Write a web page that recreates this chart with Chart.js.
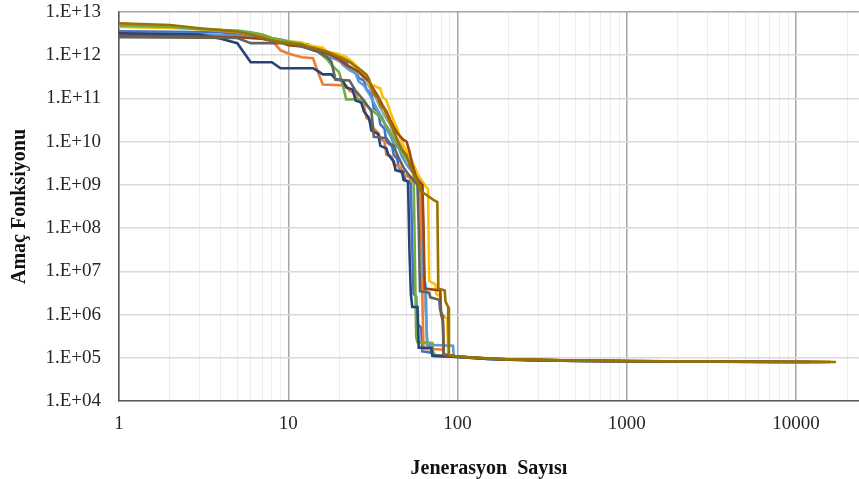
<!DOCTYPE html>
<html>
<head>
<meta charset="utf-8">
<script src="https://cdn.jsdelivr.net/npm/chart.js@4.4.0/dist/chart.umd.min.js"></script>
<style>
  html, body { margin: 0; padding: 0; background: #fff; }
  #wrap { width: 859px; height: 479px; }
</style>
</head>
<body>
<div id="wrap"><canvas id="grafik"></canvas></div>
<script>
// axis labels
var xTickLabels = [1, 10, 100, 1000, 10000];
var yTickValues = [1e4, 1e5, 1e6, 1e7, 1e8, 1e9, 1e10, 1e11, 1e12, 1e13];
var yTickLabels = ['1.E+04', '1.E+05', '1.E+06', '1.E+07', '1.E+08', '1.E+09', '1.E+10', '1.E+11', '1.E+12', '1.E+13'];

// runs: [generation, objective value]
var run1 = [[1,3.6e12],[4,3.4e12],[5,3.0e12],[6,2.6e12],[9,2.2e12],[10,1.9e12],[13,1.8e12],[14,1.5e12],[16,1.4e12],[17,1.05e12],[19,9.5e11],[20,8e11],[22,7e11],[23,5e11],[25,4.5e11],[26,3e11],[28,2.6e11],[29,1.6e11],[31,1.3e11],[32,6e10],[34,5e10],[35,2.5e10],[37,2e10],[38,1e10],[41,8e9],[42,5e9],[44,4e9],[45,2.5e9],[48,2e9],[49,1.3e9],[53,1.1e9],[54,4e7],[55,3e6],[57,2.6e6],[58,6e5],[61,5e5],[62,1.4e5],[72,1.3e5],[73,1.1e5],[100,1.04e5],[150,9.4e4],[200,9.0e4],[300,8.7e4],[600,8.5e4],[1000,8.3e4],[3000,8.1e4],[8000,8.0e4]];
var run2 = [[1,5.3e12],[2,4.8e12],[3,4e12],[5,3.4e12],[6,3e12],[7,2.6e12],[8,2.2e12],[9,1.3e12],[10,1.1e12],[12,9e11],[14,8.5e11],[15,4e11],[16,2.1e11],[22,2e11],[23,1.5e11],[25,1.3e11],[26,9e10],[28,7e10],[29,3.5e10],[31,3e10],[32,2e10],[34,1.6e10],[35,1.2e10],[37,1e10],[38,5e9],[41,4.5e9],[42,3e9],[46,2.6e9],[47,1.8e9],[52,1.5e9],[53,1.2e9],[60,1.1e9],[61,8e7],[62,2e6],[63,1.6e5],[82,1.55e5],[83,1.12e5],[100,1.06e5],[150,9.6e4],[200,9.2e4],[400,8.7e4],[1000,8.4e4],[3000,8.1e4],[12000,8.0e4]];
var run3 = [[1,3e12],[3,2.9e12],[5,2.7e12],[7,2.4e12],[9,2e12],[11,1.8e12],[13,1.7e12],[15,1.5e12],[17,1.1e12],[19,8e11],[21,6.5e11],[23,5.5e11],[25,4e11],[27,3.5e11],[29,2.5e11],[31,1.5e11],[33,1e11],[35,6e10],[37,4e10],[40,2.5e10],[42,1.5e10],[45,1e10],[48,6e9],[51,4e9],[54,2.5e9],[57,1.8e9],[60,1.3e9],[62,9e8],[63,2e7],[64,2e6],[65,1e6],[66,3e5],[68,1.6e5],[72,1.3e5],[76,1.1e5],[100,1.05e5],[200,9.1e4],[500,8.5e4],[1000,8.3e4],[5000,8.1e4],[15000,8.0e4]];
var run4 = [[1,4.5e12],[2,4.3e12],[4,3.8e12],[6,3.3e12],[7,3.0e12],[8,2.5e12],[10,2.1e12],[12,2e12],[13,1.7e12],[16,1.5e12],[17,1.2e12],[20,1.05e12],[22,9e11],[24,7e11],[26,5e11],[27,3.8e11],[29,3.5e11],[30,2.2e11],[35,1.7e11],[36,1.1e11],[38,9e10],[40,5e10],[42,3e10],[44,2e10],[46,1.2e10],[48,8e9],[50,6e9],[53,4e9],[55,3e9],[58,1.8e9],[62,1.2e9],[65,9e8],[67,8e8],[68,6e6],[74,5e6],[75,3e6],[79,2.6e6],[80,1e6],[87,8e5],[88,1.15e5],[100,1.06e5],[200,9.2e4],[500,8.6e4],[1100,8.3e4],[4000,8.1e4],[16000,8.0e4]];
var run5 = [[1,3.2e12],[3,3.1e12],[5,2.8e12],[7,2.5e12],[8,2.1e12],[10,1.9e12],[12,1.7e12],[14,1.3e12],[16,1.2e12],[17,9e11],[20,8e11],[21,6e11],[23,4.5e11],[25,3.8e11],[26,2.5e11],[28,2e11],[30,1.3e11],[32,8e10],[34,5e10],[36,3.5e10],[38,2e10],[40,1.4e10],[42,9e9],[45,7e9],[47,4.5e9],[50,3e9],[53,2.2e9],[56,1.7e9],[59,1.3e9],[62,1e9],[63,8e6],[65,4.5e6],[66,2e5],[94,1.9e5],[95,1.1e5],[150,9.6e4],[200,9.2e4],[500,8.6e4],[1000,8.3e4],[4000,8.1e4],[11000,8.0e4]];
var run6 = [[1,4.8e12],[2,4.5e12],[3,4e12],[5,3.7e12],[6,3.4e12],[7,3e12],[8,2.5e12],[9,2.3e12],[10,2.1e12],[12,1.8e12],[13,1.5e12],[15,1.2e12],[17,8e11],[18,6e11],[20,4e11],[21,2e11],[22,9.5e10],[27,9.5e10],[29,7e10],[31,5.5e10],[33,4.5e10],[36,3.2e10],[39,2e10],[41,1.4e10],[43,1e10],[46,7e9],[48,5e9],[50,4e9],[53,3e9],[55,2.5e9],[56,2e7],[57,3e5],[58,2.3e5],[71,2.2e5],[72,1.15e5],[100,1.06e5],[150,9.5e4],[200,9.1e4],[500,8.6e4],[1000,8.4e4],[2200,8.2e4]];
var run7 = [[1,3.2e12],[3,3.0e12],[4,2.4e12],[5,1.9e12],[6,6.9e11],[8,6.9e11],[9,5e11],[14,5e11],[15,4.3e11],[16,3.6e11],[18,3.6e11],[19,2.8e11],[21,2.6e11],[22,1.8e11],[24,1.6e11],[25,9e10],[27,8e10],[28,5e10],[30,3.5e10],[31,1.8e10],[34,1.5e10],[35,8e9],[38,7e9],[39,5e9],[42,3.5e9],[43,2.2e9],[47,2.0e9],[48,1.3e9],[51,1.2e9],[52,3e7],[53,3e6],[54,1.5e6],[58,1.5e6],[59,1.7e5],[70,1.7e5],[71,1.12e5],[100,1.05e5],[150,9.4e4],[200,9.0e4],[400,8.6e4],[1000,8.3e4],[4000,8.1e4],[12000,8.0e4]];
var run8 = [[1,2.8e12],[3,2.7e12],[5,2.6e12],[7,2.4e12],[9,2e12],[10,1.7e12],[12,1.6e12],[14,1.4e12],[16,1.2e12],[18,1.0e12],[20,8e11],[22,6e11],[24,5e11],[26,4.2e11],[28,3.2e11],[30,2.5e11],[32,1.6e11],[34,1.1e11],[36,7e10],[38,5e10],[40,3.2e10],[42,2.2e10],[44,1.6e10],[46,1.3e10],[48,1.1e10],[50,1e10],[52,6e9],[54,3e9],[57,1.5e9],[59,1.2e9],[62,1e9],[63,1e8],[64,4e6],[79,3.6e6],[80,1e6],[82,7e5],[83,1.15e5],[100,1.07e5],[150,9.6e4],[200,9.2e4],[500,8.6e4],[1000,8.4e4],[5000,8.1e4],[16000,8.0e4]];
var run9 = [[1,2.6e12],[5,2.5e12],[6,1.9e12],[10,1.9e12],[12,1.6e12],[15,1.2e12],[17,9e11],[18,7e11],[19,2.7e11],[23,2.6e11],[25,1.5e11],[28,9e10],[31,5e10],[32,1.3e10],[38,1.2e10],[40,9e9],[42,8e9],[44,5e9],[46,3.5e9],[48,2.5e9],[51,1.8e9],[54,1.4e9],[57,1.1e9],[58,1e9],[59,1e8],[60,3.5e6],[68,3.2e6],[69,2.5e6],[78,2.2e6],[79,1.3e6],[81,1e6],[82,6e5],[83,1.2e5],[100,1.05e5],[200,9.1e4],[500,8.5e4],[1000,8.3e4],[4000,8.1e4],[14000,8.0e4]];
var run10 = [[1,5.5e12],[2,5e12],[3,4.2e12],[4,3.8e12],[5,3.5e12],[6,3e12],[7,2.6e12],[8,2.2e12],[9,2e12],[10,1.9e12],[12,1.8e12],[13,1.6e12],[15,1.4e12],[17,1.2e12],[19,1e12],[21,8.5e11],[23,7e11],[25,5.5e11],[27,4.5e11],[29,3.5e11],[30,2.8e11],[31,1.8e11],[32,1.3e11],[34,1e11],[35,7e10],[37,5.5e10],[39,3.5e10],[41,2.2e10],[43,1.4e10],[45,9e9],[47,6.5e9],[50,4.8e9],[52,3e9],[55,1.8e9],[58,1.2e9],[61,7e8],[65,6e8],[72,4.5e8],[76,4e8],[77,4e6],[84,3.6e6],[85,2e6],[88,1.5e6],[89,1.15e5],[100,1.07e5],[150,9.6e4],[200,9.2e4],[500,8.6e4],[1000,8.4e4],[5000,8.1e4],[17200,8.0e4]];

var runs = [run1, run2, run3, run4, run5, run6, run7, run8, run9, run10];
var renkler = ['#4472C4', '#ED7D31', '#A5A5A5', '#FFC000', '#5B9BD5', '#70AD47', '#264478', '#9E480E', '#636363', '#997300'];

var datasets = [];
runs.forEach(function(run, i){
    datasets.push({
        data: run.map(function(p){ return {x: p[0], y: p[1]}; }),
        borderColor: renkler[i],
        borderWidth: 2.6,
        pointRadius: 0,
        tension: 0,
        fill: false,
        order: runs.length - i   // later runs on top, like Excel
    });
});

function isDecade(v){
    var l = Math.log10(v);
    return Math.abs(l - Math.round(l)) < 1e-9;
}

var serif = "'Liberation Serif', 'DejaVu Serif', serif";

new Chart(document.getElementById('grafik').getContext('2d'), {
    type: 'line',
    data: { datasets: datasets },
    options: {
        responsive: true,
        maintainAspectRatio: false,
        animation: false,
        layout: { padding: { top: 12, left: 0, right: 0, bottom: 0 } },
        plugins: { legend: { display: false }, tooltip: { enabled: false } },
        scales: {
            x: {
                type: 'logarithmic',
                min: 1,
                max: 23500,
                afterBuildTicks: function(scale){
                    var t = [];
                    xTickLabels.forEach(function(d){
                        for (var k = 1; k <= 9; k++){
                            if (d * k <= 20000) t.push({ value: d * k });
                        }
                    });
                    scale.ticks = t;
                },
                afterFit: function(scale){ scale.height = 78; },
                ticks: {
                    autoSkip: false,
                    maxRotation: 0,
                    padding: 12,
                    color: '#262626',
                    font: { family: serif, size: 19 },
                    callback: function(v){ return xTickLabels.indexOf(v) >= 0 ? String(v) : ''; }
                },
                grid: {
                    drawTicks: false,
                    color: function(ctx){ return isDecade(ctx.tick.value) ? '#a6a6a6' : '#ececec'; },
                    lineWidth: function(ctx){ return isDecade(ctx.tick.value) ? 1.5 : 1; }
                },
                border: { color: '#595959', width: 1.5 },
                title: {
                    display: true,
                    text: 'Jenerasyon  Sayısı',
                    color: '#111',
                    font: { family: serif, size: 20, weight: 'bold' },
                    padding: { top: 0, bottom: -2 }
                }
            },
            y: {
                type: 'logarithmic',
                min: 1e4,
                max: 1e13,
                afterBuildTicks: function(scale){
                    scale.ticks = yTickValues.map(function(v){ return { value: v }; });
                },
                afterFit: function(scale){
                    scale.width = 119;
                    // labels overhang is already covered by the layout padding
                    scale.paddingTop = 0;
                    scale.paddingBottom = 0;
                },
                ticks: {
                    autoSkip: false,
                    padding: 18,
                    color: '#262626',
                    font: { family: serif, size: 19 },
                    callback: function(v){ var i = yTickValues.indexOf(v); return i >= 0 ? yTickLabels[i] : ''; }
                },
                grid: {
                    drawTicks: false,
                    color: function(ctx){ return ctx.tick.value === 1e13 ? '#a6a6a6' : '#d9d9d9'; },
                    lineWidth: 1.5
                },
                border: { color: '#595959', width: 1.5 },
                title: {
                    display: true,
                    text: 'Amaç Fonksiyonu',
                    color: '#111',
                    font: { family: serif, size: 20, weight: 'bold' },
                    padding: { top: 8, bottom: 0 }
                }
            }
        }
    }
});
</script>
</body>
</html>
